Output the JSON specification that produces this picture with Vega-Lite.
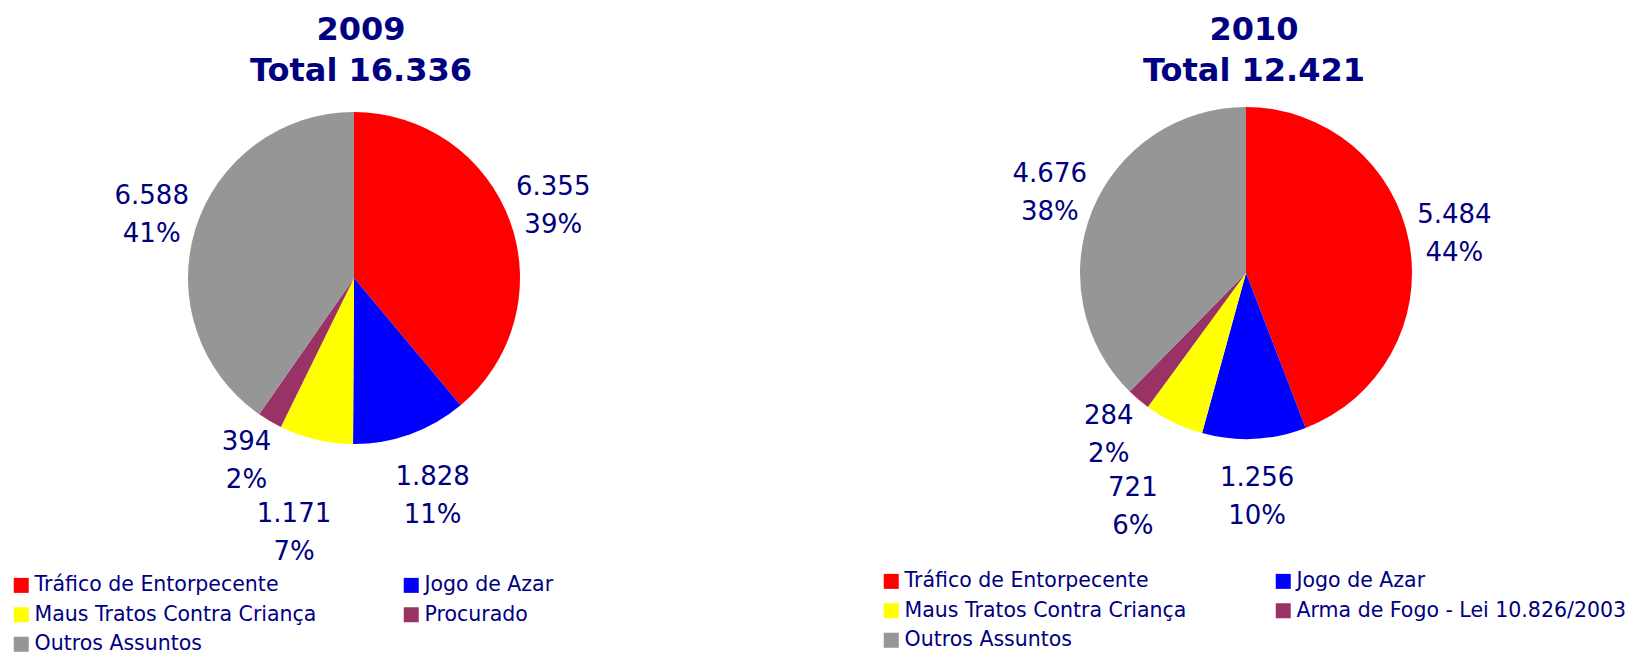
{
  "$schema": "https://vega.github.io/schema/vega-lite/v6.json",
  "background": "white",
  "padding": {"left": 0, "top": 14, "right": 0, "bottom": 0},
  "autosize": {"type": "pad"},
  "spacing": 150,
  "bounds": "flush",
  "config": {"view": {"stroke": null}, "font": "DejaVu Sans"},
  "datasets": {
    "d2009": [
      {"ordem": 1, "categoria": "Tráfico de Entorpecente", "valor": 6355, "rotulo": "6.355", "pct": "39%"},
      {"ordem": 2, "categoria": "Jogo de Azar", "valor": 1828, "rotulo": "1.828", "pct": "11%"},
      {"ordem": 3, "categoria": "Maus Tratos Contra Criança", "valor": 1171, "rotulo": "1.171", "pct": "7%"},
      {"ordem": 4, "categoria": "Procurado", "valor": 394, "rotulo": "394", "pct": "2%"},
      {"ordem": 5, "categoria": "Outros Assuntos", "valor": 6588, "rotulo": "6.588", "pct": "41%"}
    ],
    "d2010": [
      {"ordem": 1, "categoria": "Tráfico de Entorpecente", "valor": 5484, "rotulo": "5.484", "pct": "44%"},
      {"ordem": 2, "categoria": "Jogo de Azar", "valor": 1256, "rotulo": "1.256", "pct": "10%"},
      {"ordem": 3, "categoria": "Maus Tratos Contra Criança", "valor": 721, "rotulo": "721", "pct": "6%"},
      {"ordem": 4, "categoria": "Arma de Fogo - Lei 10.826/2003", "valor": 284, "rotulo": "284", "pct": "2%"},
      {"ordem": 5, "categoria": "Outros Assuntos", "valor": 4676, "rotulo": "4.676", "pct": "38%"}
    ]
  },
  "hconcat": [
    {
      "width": 708,
      "height": 354,
      "data": {"name": "d2009"},
      "title": {"text": ["2009", "Total 16.336"], "anchor": "middle", "font": "DejaVu Sans", "fontSize": 32, "fontWeight": "bold", "color": "#000080", "lineHeight": 41, "offset": -19, "dx": 7, "baseline": "bottom"},
      "transform": [{"calculate": "[datum.rotulo, datum.pct]", "as": "lbl"}],
      "encoding": {
        "theta": {"field": "valor", "type": "quantitative", "stack": true},
        "order": {"field": "ordem", "type": "quantitative"}
      },
      "layer": [
        {
          "mark": {"type": "arc", "radius": 166},
          "encoding": {
            "color": {
              "field": "categoria", "type": "nominal",
              "scale": {"domain": ["Tráfico de Entorpecente", "Jogo de Azar", "Maus Tratos Contra Criança", "Procurado", "Outros Assuntos"], "range": ["#FF0000", "#0000FF", "#FFFF00", "#993366", "#969696"]},
              "legend": {"orient": "none", "legendX": 11, "legendY": 474, "direction": "horizontal", "columns": 2, "columnPadding": 84, "rowPadding": 8.5, "symbolType": "square", "symbolSize": 225, "symbolStrokeWidth": 0, "symbolOpacity": 1, "labelFont": "DejaVu Sans", "labelFontSize": 20.5, "labelColor": "#000080", "labelOffset": 3, "labelLimit": 600, "title": null, "padding": 0}
            }
          }
        },
        {
          "mark": {"type": "text", "radius": 212, "dy": -19, "font": "DejaVu Sans", "fontSize": 26, "lineHeight": 38, "color": "#000080", "align": "center", "baseline": "middle"},
          "encoding": {
            "detail": {"field": "categoria", "type": "nominal"},
            "text": {"condition": {"test": "datum.ordem === 2 || datum.ordem === 3", "value": ""}, "field": "lbl", "type": "nominal"}
          }
        },
        {
          "mark": {"type": "text", "radius": 232, "dy": -19, "font": "DejaVu Sans", "fontSize": 26, "lineHeight": 38, "color": "#000080", "align": "center", "baseline": "middle"},
          "encoding": {
            "detail": {"field": "categoria", "type": "nominal"},
            "text": {"condition": {"test": "datum.ordem !== 2", "value": ""}, "field": "lbl", "type": "nominal"}
          }
        },
        {
          "mark": {"type": "text", "radius": 262, "dy": -19, "font": "DejaVu Sans", "fontSize": 26, "lineHeight": 38, "color": "#000080", "align": "center", "baseline": "middle"},
          "encoding": {
            "detail": {"field": "categoria", "type": "nominal"},
            "text": {"condition": {"test": "datum.ordem !== 3", "value": ""}, "field": "lbl", "type": "nominal"}
          }
        }
      ]
    },
    {
      "width": 776,
      "height": 344,
      "data": {"name": "d2010"},
      "title": {"text": ["2010", "Total 12.421"], "anchor": "middle", "font": "DejaVu Sans", "fontSize": 32, "fontWeight": "bold", "color": "#000080", "lineHeight": 41, "offset": -19, "dx": 8, "baseline": "bottom"},
      "transform": [{"calculate": "[datum.rotulo, datum.pct]", "as": "lbl"}],
      "encoding": {
        "theta": {"field": "valor", "type": "quantitative", "stack": true},
        "order": {"field": "ordem", "type": "quantitative"}
      },
      "layer": [
        {
          "mark": {"type": "arc", "radius": 166},
          "encoding": {
            "color": {
              "field": "categoria", "type": "nominal",
              "scale": {"domain": ["Tráfico de Entorpecente", "Jogo de Azar", "Maus Tratos Contra Criança", "Arma de Fogo - Lei 10.826/2003", "Outros Assuntos"], "range": ["#FF0000", "#0000FF", "#FFFF00", "#993366", "#969696"]},
              "legend": {"orient": "none", "legendX": 23, "legendY": 470, "direction": "horizontal", "columns": 2, "columnPadding": 86, "rowPadding": 8.5, "symbolType": "square", "symbolSize": 225, "symbolStrokeWidth": 0, "symbolOpacity": 1, "labelFont": "DejaVu Sans", "labelFontSize": 20.5, "labelColor": "#000080", "labelOffset": 3, "labelLimit": 600, "title": null, "padding": 0}
            }
          }
        },
        {
          "mark": {"type": "text", "radius": 212, "dy": -19, "font": "DejaVu Sans", "fontSize": 26, "lineHeight": 38, "color": "#000080", "align": "center", "baseline": "middle"},
          "encoding": {
            "detail": {"field": "categoria", "type": "nominal"},
            "text": {"condition": {"test": "datum.ordem === 2 || datum.ordem === 3", "value": ""}, "field": "lbl", "type": "nominal"}
          }
        },
        {
          "mark": {"type": "text", "radius": 224, "dy": -19, "font": "DejaVu Sans", "fontSize": 26, "lineHeight": 38, "color": "#000080", "align": "center", "baseline": "middle"},
          "encoding": {
            "detail": {"field": "categoria", "type": "nominal"},
            "text": {"condition": {"test": "datum.ordem !== 2", "value": ""}, "field": "lbl", "type": "nominal"}
          }
        },
        {
          "mark": {"type": "text", "radius": 260, "dy": -19, "font": "DejaVu Sans", "fontSize": 26, "lineHeight": 38, "color": "#000080", "align": "center", "baseline": "middle"},
          "encoding": {
            "detail": {"field": "categoria", "type": "nominal"},
            "text": {"condition": {"test": "datum.ordem !== 3", "value": ""}, "field": "lbl", "type": "nominal"}
          }
        }
      ]
    }
  ],
  "resolve": {"scale": {"color": "independent"}, "legend": {"color": "independent"}}
}
